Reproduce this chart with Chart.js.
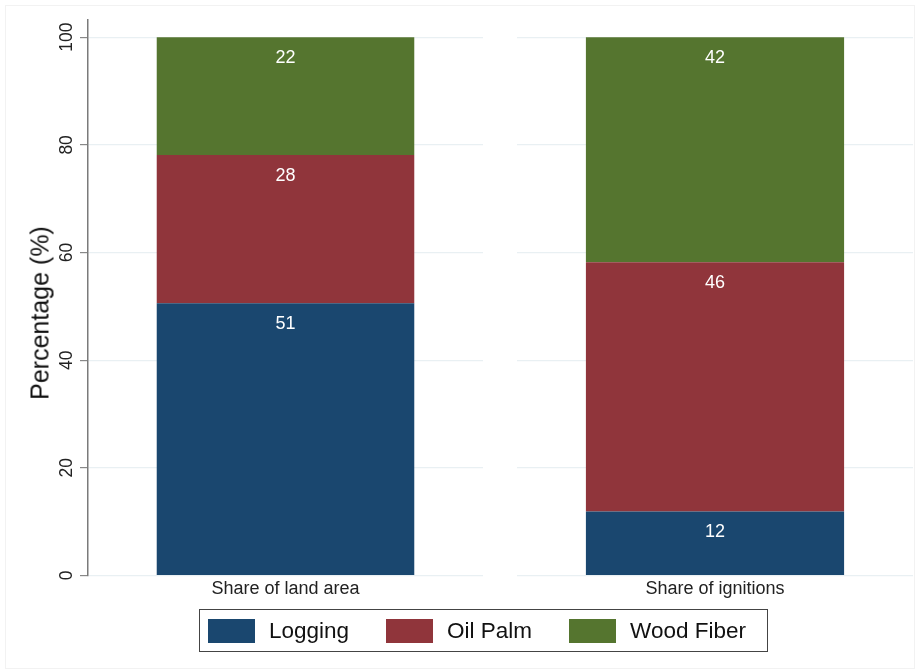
<!DOCTYPE html>
<html>
<head>
<meta charset="utf-8">
<script src="https://cdn.jsdelivr.net/npm/chart.js@4.4.1/dist/chart.umd.min.js"></script>
<style>
  body { margin: 0; background: #fff; font-family: "Liberation Sans", Arial, sans-serif; }
  #frame { position: absolute; left: 5px; top: 5px; width: 908px; height: 662px; border: 1px solid #f2f2f2; }
  .panel { position: absolute; top: 0; height: 610px; }
  #left { left: 0; width: 483px; }
  #right { left: 517px; width: 396px; }
  #ytitle { position: absolute; left: 40px; top: 313px; transform: translate(-50%, -50%) rotate(-90deg);
            font-size: 25px; color: #111; white-space: nowrap; }
  #legend { position: absolute; left: 199px; top: 609px; width: 569px; height: 43px; border: 1.5px solid #444;
            display: flex; align-items: center; padding-left: 8px; box-sizing: border-box; white-space: nowrap; }
  .item { display: flex; align-items: center; margin-right: 37px; flex-shrink: 0; }
  .swatch { width: 47px; height: 24px; margin-right: 14px; flex-shrink: 0; }
  .item span { font-size: 22.5px; color: #111; }
</style>
</head>
<body>
<div id="frame"></div>
<div class="panel" id="left"><canvas id="leftChart"></canvas></div>
<div class="panel" id="right"><canvas id="rightChart"></canvas></div>
<div id="ytitle">Percentage (%)</div>
<div id="legend"></div>
<script>
const categories = ['Share of land area', 'Share of ignitions'];
const seriesNames = ['Logging', 'Oil Palm', 'Wood Fiber'];
const logging = [50.6, 11.9];
const oilPalm = [27.5, 46.3];
const woodFiber = [21.9, 41.8];
const yTicks = [0, 20, 40, 60, 80, 100];

const seriesValues = [logging, oilPalm, woodFiber];
const seriesColors = ['#1a476f', '#90353b', '#55752f'];

// white value labels near the top of each segment
const segmentLabels = {
    id: 'segmentLabels',
    afterDatasetsDraw(chart) {
        const ctx = chart.ctx;
        ctx.save();
        ctx.font = '18px "Liberation Sans", Arial, sans-serif';
        ctx.fillStyle = '#fff';
        ctx.textAlign = 'center';
        ctx.textBaseline = 'middle';
        chart.data.datasets.forEach((ds, i) => {
            chart.getDatasetMeta(i).data.forEach((bar, j) => {
                ctx.fillText(Math.round(ds.data[j]), bar.x, bar.y + 20.5);
            });
        });
        ctx.restore();
    }
};

function makeChart(id, idx, showAxis) {
    const ctx = document.getElementById(id).getContext('2d');
    return new Chart(ctx, {
        type: 'bar',
        data: {
            labels: [categories[idx]],
            datasets: seriesNames.map((name, s) => ({
                label: name,
                data: [seriesValues[s][idx]],
                backgroundColor: seriesColors[s],
                borderWidth: 0,
                barPercentage: 0.652,
                categoryPercentage: 1
            }))
        },
        options: {
            responsive: true,
            maintainAspectRatio: false,
            animation: false,
            layout: { padding: { top: 20 } },
            plugins: { legend: { display: false }, tooltip: { enabled: false } },
            scales: {
                x: {
                    stacked: true,
                    grid: { display: false, drawTicks: false },
                    border: { display: false },
                    ticks: { color: '#222', padding: 3, font: { size: 18, family: '"Liberation Sans", Arial' } },
                    afterFit: (scale) => { scale.height = 34.5; }
                },
                y: {
                    stacked: true,
                    min: 0,
                    max: 103.2,
                    afterBuildTicks: (axis) => { axis.ticks = yTicks.map(v => ({ value: v })); },
                    grid: { color: '#e9f0f3', lineWidth: 1.2, tickColor: '#888', tickLength: 8, drawTicks: showAxis },
                    border: { display: showAxis, color: '#7a7a7a', width: 1.5 },
                    ticks: {
                        display: showAxis,
                        minRotation: 90,
                        maxRotation: 90,
                        crossAlign: 'center',
                        padding: -2,
                        color: '#222',
                        font: { size: 17.5, family: '"Liberation Sans", Arial' }
                    },
                    afterFit: (scale) => { scale.width = showAxis ? 88 : 0; }
                }
            }
        },
        plugins: [segmentLabels]
    });
}

makeChart('leftChart', 0, true);
makeChart('rightChart', 1, false);

const legend = document.getElementById('legend');
seriesNames.forEach((name, s) => {
    const item = document.createElement('div');
    item.className = 'item';
    item.innerHTML = '<div class="swatch" style="background:' + seriesColors[s] + '"></div><span>' + name + '</span>';
    legend.appendChild(item);
});
</script>
</body>
</html>
